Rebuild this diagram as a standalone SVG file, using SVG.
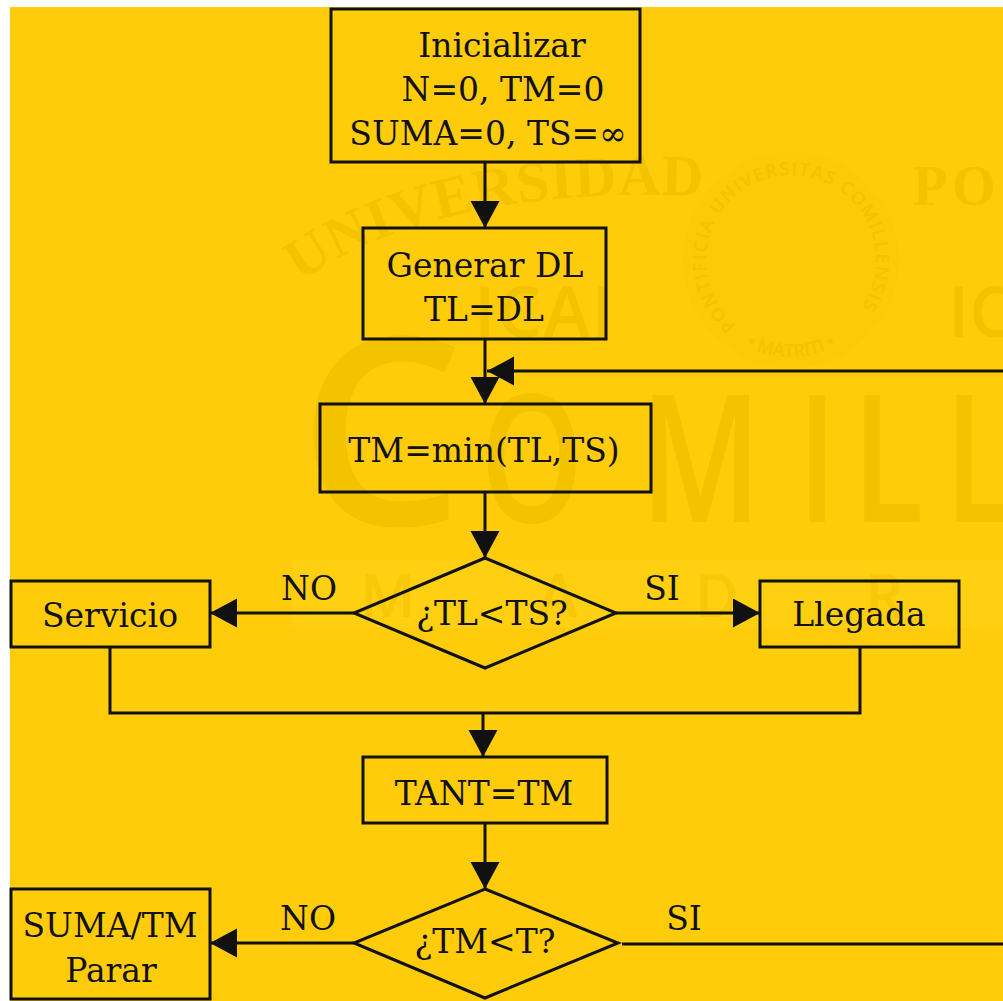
<svg xmlns="http://www.w3.org/2000/svg" width="1003" height="1001" viewBox="0 0 1003 1001">
<defs>
<style>
.bx{fill:none;stroke:#111;stroke-width:3}
.cn{fill:none;stroke:#111;stroke-width:3}
.t{font-family:"DejaVu Serif","Liberation Serif",serif;font-size:33px;fill:#111;text-anchor:middle}
.wms{font-family:"Open Sans","Liberation Sans",sans-serif;font-weight:600;fill:#F3C300}
.wmr{font-family:"Liberation Serif",serif;font-weight:bold;fill:#F3C300}
</style>
<marker id="ah" markerUnits="userSpaceOnUse" markerWidth="28" markerHeight="30" refX="27" refY="14.5" orient="auto">
<path d="M0,0 L27,14.5 L0,29 Z" fill="#111"/>
</marker>
<path id="arcU" d="M300,282 Q440,185 700,196"/>
<path id="sealTop" d="M736.4,325.1 A85,85 0 1 1 845.6,325.1"/>
<path id="sealBot" d="M716.7,322.4 A97,97 0 0 0 865.3,322.4"/>
</defs>

<!-- background -->
<rect x="0" y="0" width="1003" height="1001" fill="#ffffff"/>
<rect x="10" y="7" width="993" height="994" fill="#FFCC0C"/>

<!-- watermark -->
<g id="watermark">
<rect x="293" y="560" width="710" height="68" fill="#FFD012"/>
<text class="wmr" font-size="58" letter-spacing="1"><textPath href="#arcU">UNIVERSIDAD</textPath></text>
<text class="wmr" x="913 952" y="205" font-size="56">PO</text>
<text class="wms" x="474" y="337" font-size="70" font-weight="300" letter-spacing="2">ICAI</text>
<text class="wms" x="948" y="337" font-size="70" font-weight="300">IC</text>
<circle cx="791" cy="260" r="108" fill="#FCCA06"/>
<text class="wms" font-size="18" font-weight="700"><textPath href="#sealTop" textLength="390" lengthAdjust="spacing">PONTIFICIA UNIVERSITAS COMILLENSIS</textPath></text>
<text class="wms" font-size="18" font-weight="700" text-anchor="middle"><textPath href="#sealBot" startOffset="50%">• MATRITI •</textPath></text>
<text class="wms" x="298" y="525" font-size="262" font-weight="400">C</text>
<text class="wms" transform="translate(480,522) scale(0.74,1)" font-size="178">O</text>
<text class="wms" transform="translate(640,522) scale(0.74,1)" font-size="178">M</text>
<text class="wms" transform="translate(797,522) scale(0.74,1)" font-size="178">I</text>
<text class="wms" transform="translate(852,522) scale(0.74,1)" font-size="178">L</text>
<text class="wms" transform="translate(944,522) scale(0.74,1)" font-size="178">L</text>
<text class="wms" x="360" y="617" font-size="60" font-weight="700" fill-opacity="0.6">M</text>
<text class="wms" x="538" y="617" font-size="60" font-weight="700" fill-opacity="0.6">A</text>
<text class="wms" x="695" y="617" font-size="60" font-weight="700" fill-opacity="0.6">D</text>
<text class="wms" x="865" y="617" font-size="60" font-weight="700" fill-opacity="0.6">R</text>
</g>

<!-- connectors -->
<g id="connectors">
<path class="cn" d="M485,162 V228" marker-end="url(#ah)"/>
<path class="cn" d="M485,339 V404" marker-end="url(#ah)"/>
<path class="cn" d="M1003,371 H487" marker-end="url(#ah)"/>
<path class="cn" d="M485,492 V558" marker-end="url(#ah)"/>
<path class="cn" d="M354,613 H210" marker-end="url(#ah)"/>
<path class="cn" d="M616,613 H760" marker-end="url(#ah)"/>
<path class="cn" d="M110,647 V713 H860 V647"/>
<path class="cn" d="M483,713 V757" marker-end="url(#ah)"/>
<path class="cn" d="M485,823 V889" marker-end="url(#ah)"/>
<path class="cn" d="M354,943 H210" marker-end="url(#ah)"/>
<path class="cn" d="M622,944 H1003"/>
<text class="t" x="309" y="600">NO</text>
<text class="t" x="662" y="600">SI</text>
<text class="t" x="308" y="930">NO</text>
<text class="t" x="684" y="930">SI</text>
</g>

<!-- nodes -->
<g id="n-init">
<rect class="bx" x="331" y="9" width="309" height="153"/>
<text class="t" x="502" y="57">Inicializar</text>
<text class="t" x="503" y="101">N=0, TM=0</text>
<text class="t" x="488" y="145">SUMA=0, TS=∞</text>
</g>
<g id="n-gen">
<rect class="bx" x="363" y="228" width="243" height="111"/>
<text class="t" x="485" y="277">Generar DL</text>
<text class="t" x="484" y="321">TL=DL</text>
</g>
<g id="n-min">
<rect class="bx" x="320" y="404" width="331" height="88"/>
<text class="t" x="484" y="462">TM=min(TL,TS)</text>
</g>
<g id="n-dec1">
<polygon class="bx" points="485,558 616,613 485,668 354,613"/>
<text class="t" x="492" y="625">¿TL&lt;TS?</text>
</g>
<g id="n-serv">
<rect class="bx" x="11" y="581" width="199" height="66"/>
<text class="t" x="110" y="627">Servicio</text>
</g>
<g id="n-lleg">
<rect class="bx" x="760" y="581" width="199" height="66"/>
<text class="t" x="859" y="626">Llegada</text>
</g>
<g id="n-tant">
<rect class="bx" x="363" y="757" width="244" height="66"/>
<text class="t" x="484" y="805">TANT=TM</text>
</g>
<g id="n-dec2">
<polygon class="bx" points="485,889 618,943 485,998 354,943"/>
<text class="t" x="485" y="953">¿TM&lt;T?</text>
</g>
<g id="n-suma">
<rect class="bx" x="11" y="889" width="199" height="110"/>
<text class="t" x="110" y="937">SUMA/TM</text>
<text class="t" x="111" y="982">Parar</text>
</g>
</svg>
